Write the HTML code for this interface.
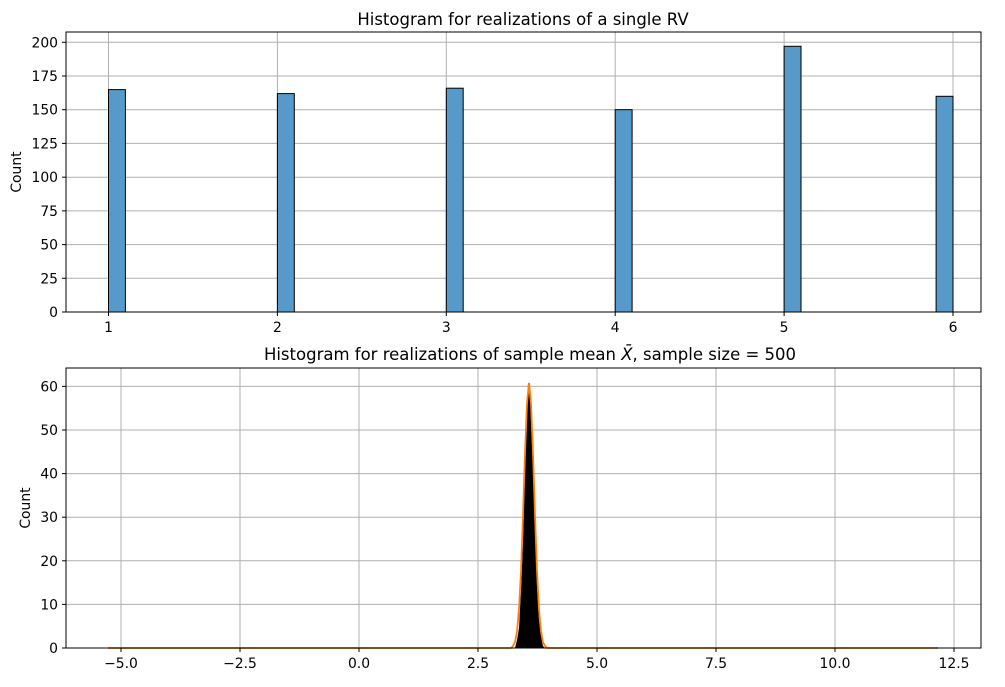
<!DOCTYPE html><html><head><style>body{margin:0;background:#fff}</style></head><body>
<svg width="1005" height="682" xmlns="http://www.w3.org/2000/svg" font-family="DejaVu Sans, Liberation Sans, sans-serif">
<rect width="1005" height="682" fill="#fff"/>
<g stroke="#b0b0b0" stroke-width="1">
<line x1="108.5" y1="32" x2="108.5" y2="312"/><line x1="277.4" y1="32" x2="277.4" y2="312"/><line x1="446.3" y1="32" x2="446.3" y2="312"/><line x1="615.2" y1="32" x2="615.2" y2="312"/><line x1="784.1" y1="32" x2="784.1" y2="312"/><line x1="953" y1="32" x2="953" y2="312"/>
<line x1="66" y1="278.3" x2="981" y2="278.3"/><line x1="66" y1="244.6" x2="981" y2="244.6"/><line x1="66" y1="210.9" x2="981" y2="210.9"/><line x1="66" y1="177.2" x2="981" y2="177.2"/><line x1="66" y1="143.4" x2="981" y2="143.4"/><line x1="66" y1="109.7" x2="981" y2="109.7"/><line x1="66" y1="76" x2="981" y2="76"/><line x1="66" y1="42.3" x2="981" y2="42.3"/>
</g>
<g fill="#5799c8" stroke="#000" stroke-width="1">
<rect x="108.5" y="89.6" width="16.9" height="222.4"/>
<rect x="277.4" y="93.6" width="16.9" height="218.4"/>
<rect x="446.3" y="88.2" width="16.9" height="223.8"/>
<rect x="615.2" y="109.7" width="16.9" height="202.3"/>
<rect x="784.1" y="46.3" width="16.9" height="265.7"/>
<rect x="936.1" y="96.3" width="16.9" height="215.7"/>
</g>
<rect x="66" y="32" width="915" height="280" fill="none" stroke="#000" stroke-width="1"/>
<g stroke="#000">
<line x1="108.5" y1="312" x2="108.5" y2="316"/><line x1="277.4" y1="312" x2="277.4" y2="316"/><line x1="446.3" y1="312" x2="446.3" y2="316"/><line x1="615.2" y1="312" x2="615.2" y2="316"/><line x1="784.1" y1="312" x2="784.1" y2="316"/><line x1="953" y1="312" x2="953" y2="316"/>
<line x1="62" y1="312" x2="66" y2="312"/><line x1="62" y1="278.3" x2="66" y2="278.3"/><line x1="62" y1="244.6" x2="66" y2="244.6"/><line x1="62" y1="210.9" x2="66" y2="210.9"/><line x1="62" y1="177.2" x2="66" y2="177.2"/><line x1="62" y1="143.4" x2="66" y2="143.4"/><line x1="62" y1="109.7" x2="66" y2="109.7"/><line x1="62" y1="76" x2="66" y2="76"/><line x1="62" y1="42.3" x2="66" y2="42.3"/>
</g>
<g font-size="13.9" fill="#000" text-anchor="middle">
<text x="108.5" y="332">1</text><text x="277.4" y="332">2</text><text x="446.3" y="332">3</text><text x="615.2" y="332">4</text><text x="784.1" y="332">5</text><text x="953" y="332">6</text>
</g>
<g font-size="13.9" fill="#000" text-anchor="end">
<text x="58" y="317">0</text><text x="58" y="283.3">25</text><text x="58" y="249.6">50</text><text x="58" y="215.9">75</text><text x="58" y="182.2">100</text><text x="58" y="148.4">125</text><text x="58" y="114.7">150</text><text x="58" y="81">175</text><text x="58" y="47.3">200</text>
</g>
<text x="21" y="172" font-size="13.9" transform="rotate(-90 21 172)" text-anchor="middle">Count</text>
<text x="523" y="25" font-size="16.5" text-anchor="middle">Histogram for realizations of a single RV</text>
<g stroke="#b0b0b0" stroke-width="1">
<line x1="121" y1="368" x2="121" y2="648"/><line x1="240" y1="368" x2="240" y2="648"/><line x1="359" y1="368" x2="359" y2="648"/><line x1="478" y1="368" x2="478" y2="648"/><line x1="597" y1="368" x2="597" y2="648"/><line x1="716" y1="368" x2="716" y2="648"/><line x1="835" y1="368" x2="835" y2="648"/><line x1="954" y1="368" x2="954" y2="648"/>
<line x1="66" y1="604.4" x2="981" y2="604.4"/><line x1="66" y1="560.8" x2="981" y2="560.8"/><line x1="66" y1="517.2" x2="981" y2="517.2"/><line x1="66" y1="473.6" x2="981" y2="473.6"/><line x1="66" y1="430" x2="981" y2="430"/><line x1="66" y1="386.4" x2="981" y2="386.4"/>
</g>
<path d="M515,648 L517,640 L519,628 L521,590 L523,540 L525,470 L527,410 L528,383 L530,383 L531,420 L533,470 L535,530 L537,585 L539,620 L541,636 L543,646 L545,648 Z" fill="#000"/>
<polyline points="108,648 511,648 513,646 515,642 517,631.4 519,609 521,571 523,515 525,453 527,403.5 529,383 531,403.5 533,453 535,515 537,571 539,609 541,631.4 543,642 545,646 547,648 938,648" fill="none" stroke="#ff7f0e" stroke-width="1.8"/>
<rect x="66" y="368" width="915" height="280" fill="none" stroke="#000" stroke-width="1"/>
<g stroke="#000">
<line x1="121" y1="648" x2="121" y2="652"/><line x1="240" y1="648" x2="240" y2="652"/><line x1="359" y1="648" x2="359" y2="652"/><line x1="478" y1="648" x2="478" y2="652"/><line x1="597" y1="648" x2="597" y2="652"/><line x1="716" y1="648" x2="716" y2="652"/><line x1="835" y1="648" x2="835" y2="652"/><line x1="954" y1="648" x2="954" y2="652"/>
<line x1="62" y1="648" x2="66" y2="648"/><line x1="62" y1="604.4" x2="66" y2="604.4"/><line x1="62" y1="560.8" x2="66" y2="560.8"/><line x1="62" y1="517.2" x2="66" y2="517.2"/><line x1="62" y1="473.6" x2="66" y2="473.6"/><line x1="62" y1="430" x2="66" y2="430"/><line x1="62" y1="386.4" x2="66" y2="386.4"/>
</g>
<g font-size="13.9" fill="#000" text-anchor="middle">
<text x="121" y="668">−5.0</text><text x="240" y="668">−2.5</text><text x="359" y="668">0.0</text><text x="478" y="668">2.5</text><text x="597" y="668">5.0</text><text x="716" y="668">7.5</text><text x="835" y="668">10.0</text><text x="954" y="668">12.5</text>
</g>
<g font-size="13.9" fill="#000" text-anchor="end">
<text x="58" y="653">0</text><text x="58" y="609.4">10</text><text x="58" y="565.8">20</text><text x="58" y="522.2">30</text><text x="58" y="478.6">40</text><text x="58" y="435">50</text><text x="58" y="391.4">60</text>
</g>
<text x="30" y="508" font-size="13.9" transform="rotate(-90 30 508)" text-anchor="middle">Count</text>
<text x="530" y="360" font-size="16.5" text-anchor="middle">Histogram for realizations of sample mean <tspan font-style="italic">X̄</tspan>, sample size = 500</text>
</svg>
</body></html>
